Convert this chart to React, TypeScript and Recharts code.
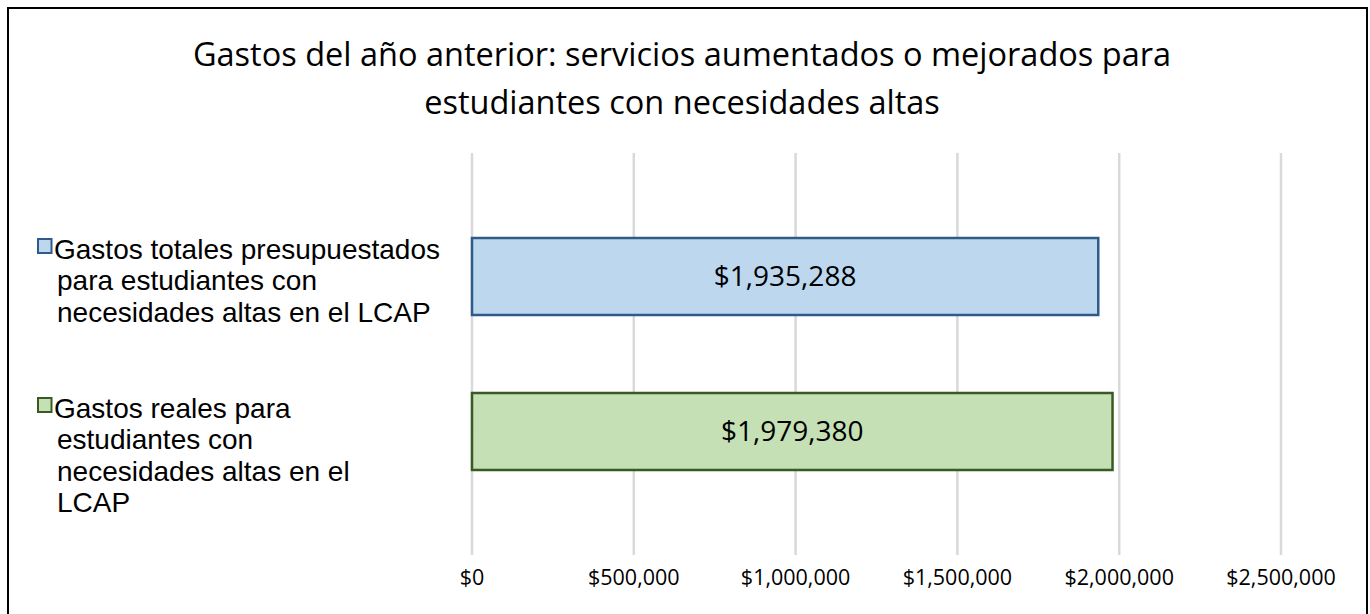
import React from 'react';
import { BarChart, Bar, XAxis, YAxis, CartesianGrid, Cell, LabelList } from 'recharts';

// Categories and values
const categories = [
  'Gastos totales presupuestados para estudiantes con necesidades altas en el LCAP',
  'Gastos reales para estudiantes con necesidades altas en el LCAP',
];
const amounts = [1935288, 1979380];
const categoryLines = [
  ['Gastos totales presupuestados', 'para estudiantes con', 'necesidades altas en el LCAP'],
  ['Gastos reales para', 'estudiantes con', 'necesidades altas en el', 'LCAP'],
];
const xTicks = [0, 500000, 1000000, 1500000, 2000000, 2500000];
const fills = ['#BDD7EE', '#C5E0B4'];
const strokes = ['#2E5B8A', '#3A5A25'];

const data = categories.map((name, i) => ({ name, value: amounts[i], idx: i }));

const money = (v: number) => '$' + Number(v).toLocaleString('en-US');

const CategoryTick = (props: any) => {
  const { y, payload } = props;
  const i = categories.indexOf(payload.value);
  const lines = categoryLines[i] || [payload.value];
  const first = y - 18 + (lines.length - 3) * 4;
  return (
    <g>
      <rect x={38} y={first - 19.5} width={13.5} height={14} fill={fills[i]} stroke={strokes[i]} strokeWidth={2} />
      {lines.map((l, k) => (
        <text
          key={k}
          x={k === 0 ? 54 : 57}
          y={first + k * 31.5}
          fontFamily="'Liberation Sans', Arial, sans-serif"
          fontSize={28}
          fill="#000"
        >
          {l}
        </text>
      ))}
    </g>
  );
};

export default function App() {
  return (
    <div
      style={{
        position: 'absolute',
        left: 0,
        top: 0,
        width: 1370,
        height: 614,
        overflow: 'hidden',
        background: '#fff',
      }}
    >
      <div
        style={{
          position: 'absolute',
          left: 7,
          top: 7,
          width: 1361,
          height: 640,
          border: '2.5px solid #000',
          boxSizing: 'border-box',
        }}
      />
      <div
        style={{
          position: 'absolute',
          left: 0,
          top: 30,
          width: 1364,
          textAlign: 'center',
          fontFamily: "'Open Sans', sans-serif",
          fontSize: 32.5,
          lineHeight: '48px',
          color: '#000',
        }}
      >
        Gastos del año anterior: servicios aumentados o mejorados para
        <br />
        estudiantes con necesidades altas
      </div>
      <div style={{ position: 'absolute', left: 0, top: 0 }}>
        <BarChart
          width={1370}
          height={614}
          data={data}
          layout="vertical"
          margin={{ top: 153, right: 89, bottom: 0, left: 0 }}
        >
          <CartesianGrid horizontal={false} stroke="#D9D9D9" strokeWidth={2.5} />
          <XAxis
            type="number"
            domain={[0, 2500000]}
            ticks={xTicks}
            tickFormatter={money}
            axisLine={false}
            tickLine={false}
            height={59}
            tickMargin={9}
            interval={0}
            tick={{ fill: '#000', fontSize: 21.5, fontFamily: "'Open Sans', sans-serif" }}
          />
          <YAxis
            type="category"
            dataKey="name"
            width={472}
            axisLine={false}
            tickLine={false}
            padding={{ top: 46, bottom: 46 }}
            tick={<CategoryTick />}
          />
          <Bar dataKey="value" barSize={77} isAnimationActive={false} strokeWidth={2.5}>
            {data.map((d, i) => (
              <Cell key={d.name} fill={fills[i]} stroke={strokes[i]} />
            ))}
            <LabelList
              dataKey="value"
              position="center"
              formatter={(v: any) => money(v)}
              fill="#000"
              fontSize={28}
              fontFamily="'Open Sans', sans-serif"
            />
          </Bar>
        </BarChart>
      </div>
    </div>
  );
}
